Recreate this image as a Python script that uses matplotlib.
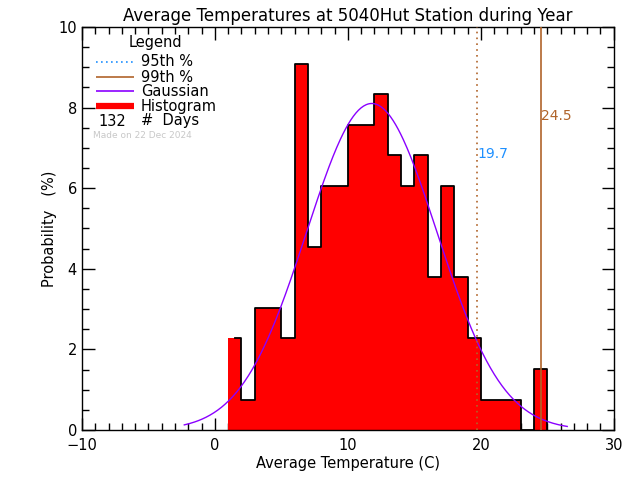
import numpy as np
import matplotlib
matplotlib.use('Agg')
import matplotlib.pyplot as plt
from matplotlib.ticker import MultipleLocator

# Histogram: 1-degree bins, left edges and day counts
bin_left = [1, 2, 3, 4, 5, 6, 7, 8, 9, 10, 11, 12,
            13, 14, 15, 16, 17, 18, 19, 20, 21, 22, 23, 24]
day_counts = [3, 1, 4, 4, 3, 12, 6, 8, 8, 10, 10, 11,
              9, 8, 9, 5, 8, 5, 3, 1, 1, 1, 0, 2]
n_days = 132

# Gaussian fit parameters
gauss_mean = 11.8
gauss_sigma = 4.9
gauss_peak = 8.1
gauss_range = (-2.3, 26.5)

# Percentile lines
p95 = 19.7
p99 = 24.5

title = 'Average Temperatures at 5040Hut Station during Year'
made_on = 'Made on 22 Dec 2024'

brown = '#b0642a'
blue95 = '#1e90ff'
purple = '#8a00ff'

plt.rcParams['font.family'] = 'DejaVu Sans'

fig = plt.figure(figsize=(6.4, 4.8), dpi=100)
ax = fig.add_axes([0.128, 0.104, 0.831, 0.840])

left = np.array(bin_left, dtype=float)
prob = np.array(day_counts) / n_days * 100.0

# red fill
ax.bar(left, prob, width=1.0, align='edge', color='red', linewidth=0, zorder=2)

# black step outline (IDL style: starts at the first bin centre)
sx = [left[0] + 0.5, left[0] + 1.0]
sy = [prob[0], prob[0]]
for i in range(1, len(left)):
    sx += [left[i], left[i] + 1.0]
    sy += [prob[i], prob[i]]
sx += [left[-1] + 1.0]
sy += [0.0]
ax.plot(sx, sy, color='black', lw=1.3, zorder=3)

# gaussian
gx = np.linspace(gauss_range[0], gauss_range[1], 300)
gy = gauss_peak * np.exp(-(gx - gauss_mean) ** 2 / (2 * gauss_sigma ** 2))
ax.plot(gx, gy, color=purple, lw=1.0, zorder=4)

# percentile lines
ax.axvline(p95, color=brown, lw=1.2, ls=(0, (1, 2.5)), zorder=5)
ax.axvline(p99, color=brown, lw=1.2, zorder=5)
ax.text(p95 + 0.05, 6.85, '%.1f' % p95, color=blue95, fontsize=10, va='center', ha='left')
ax.text(p99 + 0.05, 7.8, '%.1f' % p99, color=brown, fontsize=10, va='center', ha='left')

ax.set_xlim(-10, 30)
ax.set_ylim(0, 10)
ax.xaxis.set_major_locator(MultipleLocator(10))
ax.xaxis.set_minor_locator(MultipleLocator(1))
ax.yaxis.set_major_locator(MultipleLocator(2))
ax.yaxis.set_minor_locator(MultipleLocator(0.5))
ax.tick_params(which='both', direction='in', top=True, right=True, labelsize=10.5)
ax.tick_params(which='major', length=9, width=1)
ax.tick_params(which='minor', length=5, width=1)
ax.tick_params(axis='x', pad=6)
for s in ax.spines.values():
    s.set_linewidth(1.0)

ax.set_title(title, fontsize=12, pad=4)
ax.set_xlabel('Average Temperature (C)', fontsize=10.5, labelpad=2)
ax.set_ylabel('Probability   (%)', fontsize=10.5, labelpad=1)

# legend drawn in figure pixel coordinates (IDL-style)
def fx(px):
    return px / 640.0

def fy(py):
    return 1 - py / 480.0

fig.text(fx(155), fy(43), 'Legend', fontsize=10.5, ha='center', va='center')
rows = [(62, '95th %', blue95, (0, (1, 2))),
        (77, '99th %', brown, '-'),
        (91, 'Gaussian', purple, '-'),
        (106, 'Histogram', 'red', '-')]
for py, label, col, ls in rows:
    lw = 4.5 if label == 'Histogram' else 1.2
    fig.add_artist(plt.Line2D([fx(96), fx(134)], [fy(py), fy(py)], color=col,
                              ls=ls, lw=lw, solid_capstyle='butt',
                              transform=fig.transFigure))
    fig.text(fx(141), fy(py), label, fontsize=10.5, ha='left', va='center')
fig.text(fx(112), fy(121), str(n_days), fontsize=10.5, ha='center', va='center')
fig.text(fx(141), fy(121), '#  Days', fontsize=10.5, ha='left', va='center')
fig.text(fx(93), fy(135), made_on, fontsize=6.5, color='#c8c8c8', ha='left', va='center')

fig.savefig('out.png', dpi=100)
